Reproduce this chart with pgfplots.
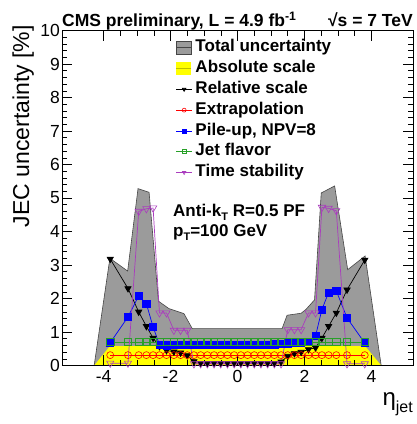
\documentclass[border=0pt]{standalone}
\usepackage{fontspec}
\setmainfont{Liberation Sans}
\usepackage{pgfplots}
\usepackage{pgfplotstable}
\pgfplotsset{compat=1.18}

\definecolor{totgray}{RGB}{155,155,155}
\definecolor{totedge}{RGB}{70,70,70}
\definecolor{absyellow}{RGB}{255,255,0}
\definecolor{absedge}{RGB}{190,190,0}
\definecolor{flavgreen}{RGB}{40,160,40}
\definecolor{timemag}{RGB}{170,60,190}

% upper edge of the total uncertainty band
\pgfplotstableread{
eta tot
-4.28 0
-3.81 3.20
-3.28 2.82
-2.97 5.28
-2.64 5.17
-2.36 1.92
-2.05 1.70
-1.60 1.55
-1.35 1.10
1.33 1.10
1.48 1.50
1.90 1.56
2.05 1.68
2.30 1.96
2.50 5.15
2.90 5.36
3.29 2.86
3.81 3.27
4.29 0
}\totaltable

% absolute scale band
\pgfplotstableread{
eta abs
-4.28 0
-3.81 0.58
3.81 0.58
4.29 0
}\abstable

% individual sources
\pgfplotstableread{
eta rel ext pu flav time
-3.80 3.18 0.31 0.68 0.70 0.07
-3.27 2.30 0.31 1.45 0.70 0.07
-2.95 1.60 0.31 2.08 0.70 4.60
-2.72 1.17 0.31 1.84 0.70 4.68
-2.52 0.82 0.31 1.15 0.70 4.70
-2.33 0.57 0.31 0.62 0.70 1.57
-2.12 0.45 0.31 0.60 0.70 1.57
-1.90 0.41 0.31 0.62 0.70 1.05
-1.70 0.38 0.31 0.62 0.70 1.05
-1.50 0.30 0.31 0.62 0.70 1.05
-1.30 0.12 0.31 0.62 0.70 0.05
-1.10 0.07 0.31 0.62 0.70 0.05
-0.90 0.07 0.31 0.62 0.70 0.05
-0.70 0.07 0.31 0.62 0.70 0.05
-0.50 0.07 0.31 0.62 0.70 0.05
-0.30 0.07 0.31 0.62 0.70 0.05
-0.10 0.07 0.31 0.62 0.70 0.05
0.10 0.07 0.31 0.62 0.70 0.05
0.30 0.07 0.31 0.62 0.70 0.05
0.50 0.07 0.31 0.62 0.70 0.05
0.70 0.07 0.31 0.62 0.70 0.05
0.90 0.07 0.31 0.62 0.70 0.05
1.10 0.07 0.31 0.63 0.70 0.05
1.30 0.11 0.31 0.64 0.70 0.05
1.50 0.28 0.31 0.66 0.70 1.07
1.70 0.36 0.31 0.68 0.70 1.07
1.90 0.40 0.31 0.69 0.70 1.07
2.12 0.48 0.31 0.70 0.70 1.57
2.33 0.53 0.31 0.88 0.70 1.57
2.52 0.82 0.31 1.67 0.70 4.72
2.72 1.17 0.31 2.18 0.70 4.69
2.95 1.57 0.31 2.23 0.70 4.62
3.27 2.26 0.31 1.42 0.70 0.05
3.80 3.15 0.31 0.67 0.70 0.05
}\sources

\pgfplotsset{
  bandlegend/.style={legend image code/.code={
      \fill[##1] (0pt,-6.5pt) rectangle (15pt,6.5pt);
      \draw[#1,line width=0.8pt] (0pt,0pt) -- (15pt,0pt);}},
  ptlegend/.style={legend image code/.code={
      \draw[##1,mark size=2pt,mark repeat=2,mark phase=2]
        plot coordinates {(0pt,0pt) (8pt,0pt) (16pt,0pt)};}},
}

\begin{document}
\begin{tikzpicture}
\path[use as bounding box] (0,0) rectangle (416pt,424pt);
\begin{axis}[
  at={(62pt,58.5pt)}, anchor=south west,
  scale only axis, width=351pt, height=335pt,
  xmin=-5.24, xmax=5.24, ymin=0, ymax=10,
  xtick={-4,-2,0,2,4}, minor x tick num=3,
  ytick={0,1,...,10}, minor y tick num=4,
  major tick length=10pt, minor tick length=5pt,
  tick style={black, line width=0.5pt},
  axis line style={line width=0.6pt},
  tick align=inside,
  /pgf/number format/assume math mode=true,
  ticklabel style={font=\fontsize{17.5}{17.5}\selectfont},
  xticklabel style={yshift=-1.5pt},
  yticklabel style={inner sep=2pt},
  axis on top,
  legend cell align=left,
  legend style={draw=none, fill=none, at={(axis cs:-1.85,9.73)}, anchor=north west,
    font=\fontsize{17}{17}\bfseries, inner sep=0pt, row sep=4.8pt,
    /tikz/column sep=3pt,
    nodes={inner sep=0pt, text height=12.2pt, text depth=3.8pt}},
]
\addplot[fill=totgray, draw=totedge, line width=0.6pt, bandlegend=totedge]
  table[x=eta, y=tot] {\totaltable} \closedcycle;
\addlegendentry{Total uncertainty}
\addplot[fill=absyellow, draw=none, bandlegend=absedge]
  table[x=eta, y=abs] {\abstable} \closedcycle;
\addlegendentry{Absolute scale}
\addplot[black, line width=0.7pt, mark=triangle*, mark size=3.6pt,
  mark options={rotate=180, solid}, ptlegend]
  table[x=eta, y=rel] {\sources};
\addlegendentry{Relative scale}
\addplot[red, line width=0.7pt, mark=o, mark size=3.5pt,
  mark options={solid, line width=0.6pt}, ptlegend]
  table[x=eta, y=ext] {\sources};
\addlegendentry{Extrapolation}
\addplot[blue, line width=0.7pt, mark=square*, mark size=3.6pt,
  mark options={solid}, ptlegend]
  table[x=eta, y=pu] {\sources};
\addlegendentry{Pile-up, NPV=8}
\addplot[flavgreen, line width=0.7pt, mark=square, mark size=3.6pt,
  mark options={solid, line width=0.6pt}, ptlegend]
  table[x=eta, y=flav] {\sources};
\addlegendentry{Jet flavor}
\addplot[timemag, line width=0.7pt, mark=triangle, mark size=4.2pt,
  mark options={rotate=180, solid, line width=0.6pt}, ptlegend]
  table[x=eta, y=time] {\sources};
\addlegendentry{Time stability}
\end{axis}

% header
\node[anchor=base west, inner sep=0pt, font=\fontsize{17.5}{17.5}\bfseries]
  at (62pt,397pt) {CMS preliminary, L = 4.9 fb\textsuperscript{-1}};
\node[anchor=base east, inner sep=0pt, font=\fontsize{17.5}{17.5}\bfseries]
  at (413pt,397pt) {√s = 7 TeV};

% jet definition
\node[anchor=base west, inner sep=0pt, font=\fontsize{17}{17}\bfseries]
  at (173pt,207pt) {Anti-k\raisebox{-4pt}{\fontsize{11}{11}\selectfont T} R=0.5 PF};
\node[anchor=base west, inner sep=0pt, font=\fontsize{17}{17}\bfseries]
  at (173pt,187pt) {p\raisebox{-4pt}{\fontsize{11}{11}\selectfont T}=100 GeV};

% axis titles
\node[anchor=base east, rotate=90, inner sep=0pt, font=\fontsize{23}{23}\selectfont]
  at (29pt,399pt) {JEC uncertainty [\%]};
\node[anchor=base east, inner sep=0pt]
  at (413pt,18pt) {{\fontsize{24}{24}\selectfont η}\raisebox{-6pt}{\fontsize{16}{16}\selectfont jet}};
\end{tikzpicture}
\end{document}
